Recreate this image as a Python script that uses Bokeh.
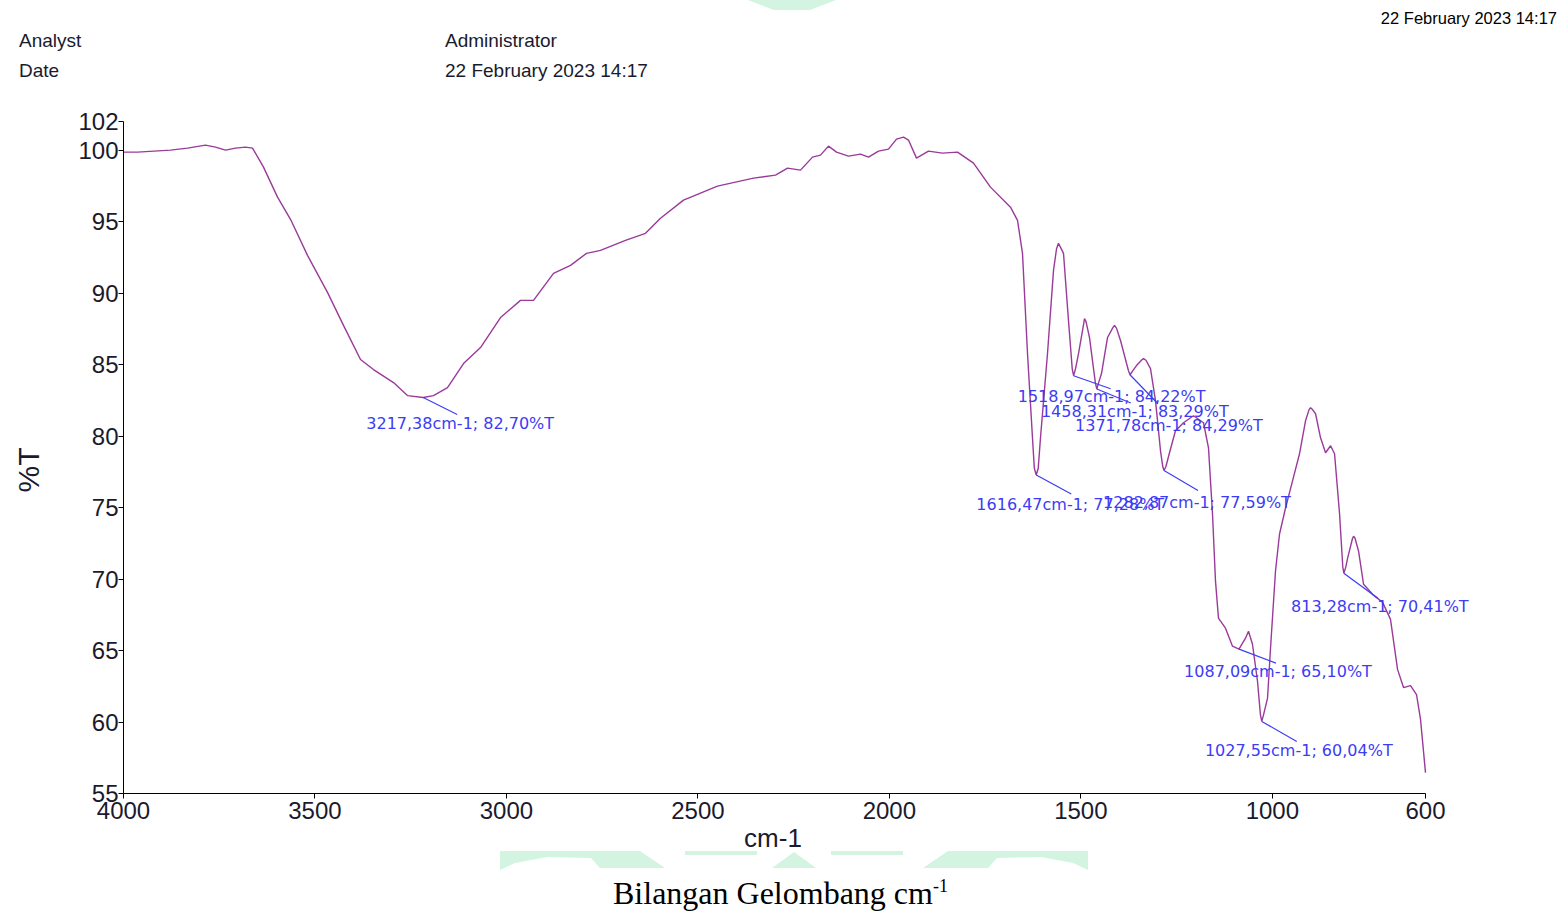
import math
from bokeh.plotting import figure
from bokeh.layouts import column
from bokeh.models import Range1d, FixedTicker, Div
from bokeh.core.properties import value
from bokeh.embed import file_html
from bokeh.resources import INLINE

# ---------------- data ----------------
wavenumber = [4000.0, 3963.4, 3877.3, 3832.9, 3785.9, 3759.8, 3733.6, 3707.5, 3681.4, 3663.1,
              3634.4, 3597.8, 3563.9, 3519.5, 3467.3, 3425.5, 3381.1, 3347.2, 3294.9, 3258.4,
              3217.38, 3190.5, 3153.9, 3112.1, 3067.7, 3015.5, 2963.3, 2929.3, 2877.1, 2832.7,
              2790.9, 2754.4, 2689.1, 2636.9, 2597.7, 2537.6, 2448.9, 2354.8, 2297.4, 2266.0,
              2232.1, 2200.8, 2179.9, 2159.0, 2138.1, 2106.8, 2075.4, 2054.5, 2028.4, 2002.3,
              1981.4, 1963.1, 1950.1, 1929.2, 1897.9, 1861.3, 1822.1, 1780.3, 1736.0, 1683.7,
              1665.4, 1652.4, 1639.3, 1626.3, 1621.5, 1616.47, 1611.3, 1605.4, 1587.1, 1571.4,
              1563.5, 1558.4, 1553.0, 1545.3, 1532.3, 1522.5, 1518.97, 1514.0, 1506.1, 1493.0,
              1490.4, 1486.5, 1477.4, 1462.0, 1458.31, 1454.0, 1446.1, 1430.4, 1416.0, 1412.1,
              1407.0, 1396.4, 1376.0, 1371.78, 1366.0, 1354.7, 1340.0, 1336.4, 1330.0, 1318.1,
              1305.1, 1292.0, 1286.0, 1282.87, 1278.0, 1268.5, 1252.9, 1232.0,
              1205.9, 1179.7, 1166.7, 1156.2, 1148.4, 1140.6, 1122.3, 1104.0, 1087.09, 1070.1,
              1062.2, 1051.8, 1038.7, 1031.0, 1027.55, 1023.0, 1012.6, 1004.7, 991.7, 981.2,
              965.5, 947.2, 929.0, 913.3, 904.0, 900.2, 895.0, 887.1, 874.1, 861.0, 847.9,
              837.5, 824.4, 816.0, 813.28, 808.0, 803.5, 790.5, 787.8, 784.0, 774.7, 761.7,
              738.1, 712.0, 691.4, 673.0, 657.4, 639.1, 623.4, 612.9, 600.0]
transmittance = [99.86, 99.86, 100.0, 100.14, 100.35, 100.21, 100.0, 100.14, 100.21, 100.14,
                 98.81, 96.71, 95.16, 92.64, 90.05, 87.74, 85.35, 84.65, 83.74, 82.83,
                 82.70, 82.83, 83.39, 85.07, 86.19, 88.29, 89.49, 89.49, 91.38, 91.94,
                 92.78, 92.99, 93.69, 94.18, 95.23, 96.50, 97.48, 98.04, 98.25, 98.74,
                 98.60, 99.51, 99.65, 100.28, 99.86, 99.58, 99.72, 99.51, 99.93, 100.07,
                 100.77, 100.91, 100.70, 99.44, 99.93, 99.79, 99.86, 99.09, 97.41, 96.01,
                 95.09, 92.78, 85.77, 79.88, 77.75, 77.28, 77.75, 79.88, 85.77, 91.59,
                 93.10, 93.48, 93.20, 92.78, 88.08, 84.70, 84.22, 84.70, 85.77, 87.80,
                 88.22, 88.00, 86.89, 83.70, 83.29, 83.70, 84.37, 86.89, 87.60, 87.74,
                 87.55, 86.68, 84.60, 84.29, 84.50, 84.93, 85.35, 85.42, 85.30, 84.72,
                 82.48, 78.97, 77.85, 77.59, 77.85, 78.83, 80.37, 80.93,
                 81.42, 80.93, 79.18, 74.55, 69.85, 67.26, 66.56, 65.30, 65.10, 65.86,
                 66.35, 65.44, 62.85, 60.50, 60.04, 60.50, 61.65, 65.16, 70.56, 73.15,
                 74.97, 76.87, 78.76, 81.07, 81.85, 81.98, 81.85, 81.56, 79.88, 78.83, 79.32,
                 78.76, 74.55, 70.85, 70.41, 70.85, 71.45, 72.85, 72.99, 72.85, 71.94, 69.63,
                 68.93, 68.37, 67.18, 63.68, 62.41, 62.55, 61.92, 60.17, 56.45]

peak_wn = [3217.38, 1616.47, 1518.97, 1458.31, 1371.78, 1282.87, 1087.09, 1027.55, 813.28]
peak_t = [82.70, 77.28, 84.22, 83.29, 84.29, 77.59, 65.10, 60.04, 70.41]

x_ticks = [4000, 3500, 3000, 2500, 2000, 1500, 1000, 600]
y_ticks = [55, 60, 65, 70, 75, 80, 85, 90, 95, 100, 102]

header_keys = ["Analyst", "Date"]
header_values = ["Administrator", "22 February 2023 14:17"]
stamp_text = "22 February 2023 14:17"
x_title = "cm-1"
y_title = "%T"
caption_text = "Bilangan Gelombang cm"
caption_sup = "-1"

# ---------------- layout parameters (pixels) ----------------
W = 1565
HEADER_H, MAIN_H, FOOTER_H = 105, 724, 84
LEFT = 123            # page x of the 4000 axis end
AXIS_W = 1302         # pixels from 4000 to 600
EXTRA_W = 55          # frame continues right of 600 so labels are not clipped
FRAME_TOP = 16        # inside main figure
FRAME_H = 672
X0, XA = 4000, 600
Y0, Y1 = 55, 102
XPP = (X0 - XA) / AXIS_W
YPP = (Y1 - Y0) / FRAME_H
X1 = XA - EXTRA_W * XPP
FT = HEADER_H + MAIN_H   # page y of footer top

# leader-line end / label-centre offsets (right, down) in pixels from each peak
leader_dx = [34, 35, 37, 34, 28, 34, 37, 35, 34]
leader_dy = [17, 19, 13, 14, 29, 20, 14, 20, 25]
text_dx = [37, 34, 38, 38, 39, 33, 39, 37, 36]
text_dy = [26, 30, 21, 22, 51, 32, 22, 29, 33]

SPEC_COLOR = "#9a3a9a"
ANN_COLOR = "#3c3cf5"
TEXT_COLOR = "#1a1a2e"
WM_COLOR = "#d2f4e0"


def poly_svg(shapes, width, height, dy=0):
    parts = []
    for xs, ys in shapes:
        pts = " ".join(f"{x},{y - dy}" for x, y in zip(xs, ys))
        parts.append(f'<polygon points="{pts}" fill="{WM_COLOR}" />')
    return (f'<svg style="position:absolute;left:0;top:0" width="{width}" height="{height}">'
            + "".join(parts) + "</svg>")


def abs_text(text, left, top, size, lh, font="Liberation Sans", color=TEXT_COLOR,
             right=None, extra=""):
    pos = f"right:{right}px;" if right is not None else f"left:{left}px;"
    return (f'<div style="position:absolute;{pos}top:{top}px;font-family:\'{font}\';'
            f'font-size:{size}px;line-height:{lh}px;color:{color};white-space:nowrap;{extra}">'
            f"{text}</div>")


# ---------------- header ----------------
top_wm = [([748, 836, 810, 774], [0, 0, 10, 10])]
hdr_html = (f'<div style="position:relative;width:{W}px;height:{HEADER_H}px;overflow:visible">'
            + poly_svg(top_wm, W, HEADER_H)
            + abs_text(header_keys[0], 19, 31, 19, 20)
            + abs_text(header_keys[1], 19, 61, 19, 20)
            + abs_text(header_values[0], 445, 31, 19, 20)
            + abs_text(header_values[1], 445, 61, 19, 20)
            + abs_text(stamp_text, 0, 9, 16.5, 18, color="#000000", right=W - 1557)
            + "</div>")
hdr = Div(text=hdr_html, width=W, height=HEADER_H, margin=(0, 0, 0, 0))

# ---------------- main chart ----------------
p = figure(width=W, height=MAIN_H, x_range=Range1d(X0, X1), y_range=Range1d(Y0, Y1),
           output_backend="svg", toolbar_location=None, title=None,
           min_border_left=LEFT, min_border_right=W - LEFT - AXIS_W - EXTRA_W,
           min_border_top=FRAME_TOP, min_border_bottom=MAIN_H - FRAME_TOP - FRAME_H,
           margin=(0, 0, 0, 0))
p.grid.visible = False
p.outline_line_color = None
p.background_fill_color = "white"
p.border_fill_color = "white"

for ax in (p.xaxis[0], p.yaxis[0]):
    ax.axis_line_color = "black"
    ax.axis_line_width = 1
    ax.major_tick_line_color = "black"
    ax.major_tick_out = 5
    ax.major_tick_in = 0
    ax.minor_tick_line_color = None
    ax.major_label_text_font = "Liberation Sans"
    ax.major_label_text_font_size = "24px"
    ax.major_label_text_color = TEXT_COLOR
p.xaxis.ticker = FixedTicker(ticks=x_ticks)
p.xaxis.bounds = (XA, X0)
p.yaxis.ticker = FixedTicker(ticks=y_ticks)
p.yaxis.bounds = (Y0, Y1)
p.xaxis.major_tick_out = 5
p.xaxis.major_label_standoff = 3
p.yaxis.major_label_standoff = 0
p.yaxis.axis_label = y_title + "\u00a0\u00a0\u00a0"
p.yaxis.axis_label_text_font = "Liberation Sans"
p.yaxis.axis_label_text_font_size = "30px"
p.yaxis.axis_label_text_font_style = "normal"
p.yaxis.axis_label_text_color = TEXT_COLOR
p.yaxis.axis_label_standoff = 30

p.line(wavenumber, transmittance, line_color=SPEC_COLOR, line_width=1.4)

seg_x1 = [w - dx * XPP for w, dx in zip(peak_wn, leader_dx)]
seg_y1 = [t - dy * YPP for t, dy in zip(peak_t, leader_dy)]
p.segment(x0=peak_wn, y0=peak_t, x1=seg_x1, y1=seg_y1, line_color=ANN_COLOR, line_width=1.2)


def fmt(v):
    return f"{v:.2f}".replace(".", ",")


labels = [f"{fmt(w)}cm-1; {fmt(t)}%T" for w, t in zip(peak_wn, peak_t)]
p.text(x=peak_wn, y=peak_t, text=labels, x_offset=text_dx, y_offset=text_dy,
       text_align="center", text_baseline="middle", text_color=ANN_COLOR,
       text_font=value("DejaVu Sans"), text_font_size="16px")

# ---------------- footer ----------------
bottom_wm = [
    ([500, 640, 665, 600, 591, 547, 515, 500], [851, 851, 868, 868, 858, 857, 863, 870]),
    ([685, 757, 757, 685], [851, 851, 855, 855]),
    ([772, 794, 816], [868, 852, 868]),
    ([831, 903, 903, 831], [851, 851, 855, 855]),
    ([1088, 948, 923, 988, 997, 1041, 1073, 1088], [851, 851, 868, 868, 858, 857, 863, 870]),
]
caption_html = (f'{caption_text}<span style="font-size:18px;line-height:0;'
                f'vertical-align:12px">{caption_sup}</span>')
ftr_html = (f'<div style="position:relative;width:{W}px;height:{FOOTER_H}px;overflow:visible">'
            + poly_svg(bottom_wm, W, FOOTER_H, dy=FT)
            + abs_text(x_title, 0, 838 - FT - 11, 26, 22,
                       extra="width:100px;margin-left:723px;text-align:center;")
            + abs_text(caption_html, 613, 877 - FT, 32, 32, font="Liberation Serif",
                       color="black")
            + "</div>")
ftr = Div(text=ftr_html, width=W, height=FOOTER_H, margin=(0, 0, 0, 0))

layout = column(hdr, p, ftr, spacing=0)
open("out.html", "w").write(file_html(layout, INLINE))
